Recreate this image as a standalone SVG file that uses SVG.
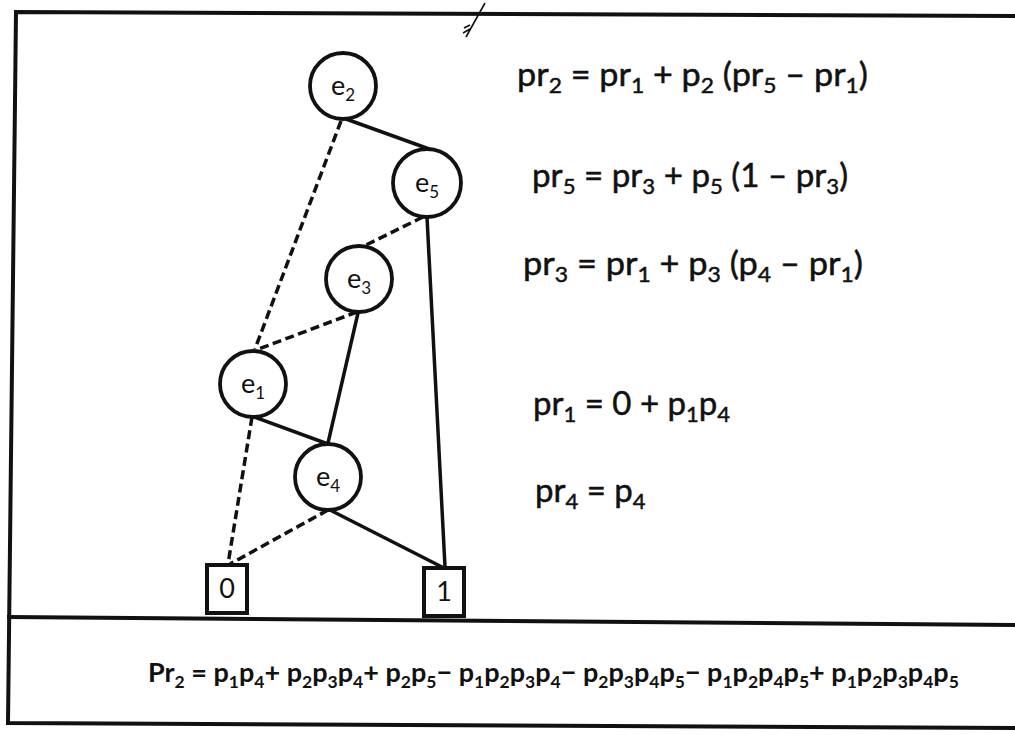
<svg xmlns="http://www.w3.org/2000/svg" width="1015" height="735" viewBox="0 0 1015 735">
<style>
.frame{fill:none;stroke:#111;stroke-width:4;stroke-linecap:square}
.node{fill:#fff;stroke:#111;stroke-width:3.8}
.box{fill:#fff;stroke:#111;stroke-width:4}
.solid{stroke:#111;stroke-width:3.5;fill:none;stroke-linecap:round}
.dash{stroke:#111;stroke-width:3.5;fill:none;stroke-dasharray:9 4.5}
.lbl{font-family:Lato,"Open Sans","Liberation Sans",sans-serif;font-size:27px;fill:#111;text-anchor:middle}
.eq{font-family:Lato,"Open Sans","Liberation Sans",sans-serif;font-size:33px;fill:#111;stroke:#111;stroke-width:0.5}
.big{font-family:Lato,"Open Sans","Liberation Sans",sans-serif;font-size:27px;font-weight:bold;fill:#111}
</style>
<rect width="1015" height="735" fill="#fff"/>
<g id="frame">
<path class="frame" d="M1015,16 L16,12 L8,723 L1015,728"/>
<path class="frame" d="M9,617 L1015,625"/>
<path d="M485,3 L466,37 M463,33 l7,-4 M464,28 l6,-3" stroke="#111" stroke-width="1.6" fill="none"/>
</g>
<g id="connectors">
<line class="dash" x1="341" y1="121" x2="255" y2="349"/>
<line class="solid" x1="346" y1="119" x2="432" y2="150"/>
<line class="dash" x1="423" y1="217" x2="364" y2="246"/>
<line class="solid" x1="427" y1="217" x2="445" y2="567"/>
<line class="dash" x1="357" y1="312" x2="256" y2="350"/>
<line class="solid" x1="358" y1="313" x2="328" y2="443"/>
<line class="dash" x1="252" y1="417" x2="228" y2="564"/>
<line class="solid" x1="254" y1="417" x2="328" y2="444"/>
<line class="dash" x1="328" y1="510" x2="230" y2="564"/>
<line class="solid" x1="330" y1="510" x2="442" y2="567"/>
</g>
<g id="e2"><circle class="node" cx="343" cy="86" r="33"/><text class="lbl" x="343" y="95">e<tspan font-size="17" dy="6">2</tspan></text></g>
<g id="e5"><circle class="node" cx="427" cy="183" r="34"/><text class="lbl" x="427" y="192">e<tspan font-size="17" dy="6">5</tspan></text></g>
<g id="e3"><circle class="node" cx="359" cy="279" r="33"/><text class="lbl" x="359" y="288">e<tspan font-size="17" dy="6">3</tspan></text></g>
<g id="e1"><circle class="node" cx="253" cy="384" r="33"/><text class="lbl" x="253" y="393">e<tspan font-size="17" dy="6">1</tspan></text></g>
<g id="e4"><circle class="node" cx="328" cy="477" r="33"/><text class="lbl" x="328" y="486">e<tspan font-size="17" dy="6">4</tspan></text></g>
<g id="t0"><rect class="box" x="207" y="565" width="40" height="48"/><text class="lbl" x="227" y="598">0</text></g>
<g id="t1"><rect class="box" x="424" y="568" width="40" height="48"/><text class="lbl" x="444" y="601">1</text></g>
<g id="equations">
<text class="eq" x="517" y="86" textLength="351" lengthAdjust="spacingAndGlyphs">pr<tspan font-size="22" dy="7">2</tspan><tspan dy="-7"> = pr</tspan><tspan font-size="22" dy="7">1</tspan><tspan dy="-7"> + p</tspan><tspan font-size="22" dy="7">2</tspan><tspan dy="-7"> (pr</tspan><tspan font-size="22" dy="7">5</tspan><tspan dy="-7"> – pr</tspan><tspan font-size="22" dy="7">1</tspan><tspan dy="-7">)</tspan></text>
<text class="eq" x="532" y="187" textLength="316" lengthAdjust="spacingAndGlyphs">pr<tspan font-size="22" dy="7">5</tspan><tspan dy="-7"> = pr</tspan><tspan font-size="22" dy="7">3</tspan><tspan dy="-7"> + p</tspan><tspan font-size="22" dy="7">5</tspan><tspan dy="-7"> (1 – pr</tspan><tspan font-size="22" dy="7">3</tspan><tspan dy="-7">)</tspan></text>
<text class="eq" x="523" y="275" textLength="340" lengthAdjust="spacingAndGlyphs">pr<tspan font-size="22" dy="7">3</tspan><tspan dy="-7"> = pr</tspan><tspan font-size="22" dy="7">1</tspan><tspan dy="-7"> + p</tspan><tspan font-size="22" dy="7">3</tspan><tspan dy="-7"> (p</tspan><tspan font-size="22" dy="7">4</tspan><tspan dy="-7"> – pr</tspan><tspan font-size="22" dy="7">1</tspan><tspan dy="-7">)</tspan></text>
<text class="eq" x="533" y="415">pr<tspan font-size="22" dy="7">1</tspan><tspan dy="-7"> = 0 + p</tspan><tspan font-size="22" dy="7">1</tspan><tspan dy="-7">p</tspan><tspan font-size="22" dy="7">4</tspan></text>
<text class="eq" x="535" y="502">pr<tspan font-size="22" dy="7">4</tspan><tspan dy="-7"> = p</tspan><tspan font-size="22" dy="7">4</tspan></text>
<text class="big" x="148" y="682" font-size="26.5">Pr<tspan font-size="17.5" dy="6">2</tspan><tspan dy="-6"> = p</tspan><tspan font-size="17.5" dy="6">1</tspan><tspan dy="-6">p</tspan><tspan font-size="17.5" dy="6">4</tspan><tspan dy="-6">+ p</tspan><tspan font-size="17.5" dy="6">2</tspan><tspan dy="-6">p</tspan><tspan font-size="17.5" dy="6">3</tspan><tspan dy="-6">p</tspan><tspan font-size="17.5" dy="6">4</tspan><tspan dy="-6">+ p</tspan><tspan font-size="17.5" dy="6">2</tspan><tspan dy="-6">p</tspan><tspan font-size="17.5" dy="6">5</tspan><tspan dy="-6">− p</tspan><tspan font-size="17.5" dy="6">1</tspan><tspan dy="-6">p</tspan><tspan font-size="17.5" dy="6">2</tspan><tspan dy="-6">p</tspan><tspan font-size="17.5" dy="6">3</tspan><tspan dy="-6">p</tspan><tspan font-size="17.5" dy="6">4</tspan><tspan dy="-6">− p</tspan><tspan font-size="17.5" dy="6">2</tspan><tspan dy="-6">p</tspan><tspan font-size="17.5" dy="6">3</tspan><tspan dy="-6">p</tspan><tspan font-size="17.5" dy="6">4</tspan><tspan dy="-6">p</tspan><tspan font-size="17.5" dy="6">5</tspan><tspan dy="-6">− p</tspan><tspan font-size="17.5" dy="6">1</tspan><tspan dy="-6">p</tspan><tspan font-size="17.5" dy="6">2</tspan><tspan dy="-6">p</tspan><tspan font-size="17.5" dy="6">4</tspan><tspan dy="-6">p</tspan><tspan font-size="17.5" dy="6">5</tspan><tspan dy="-6">+ p</tspan><tspan font-size="17.5" dy="6">1</tspan><tspan dy="-6">p</tspan><tspan font-size="17.5" dy="6">2</tspan><tspan dy="-6">p</tspan><tspan font-size="17.5" dy="6">3</tspan><tspan dy="-6">p</tspan><tspan font-size="17.5" dy="6">4</tspan><tspan dy="-6">p</tspan><tspan font-size="17.5" dy="6">5</tspan></text>
</g>
</svg>
